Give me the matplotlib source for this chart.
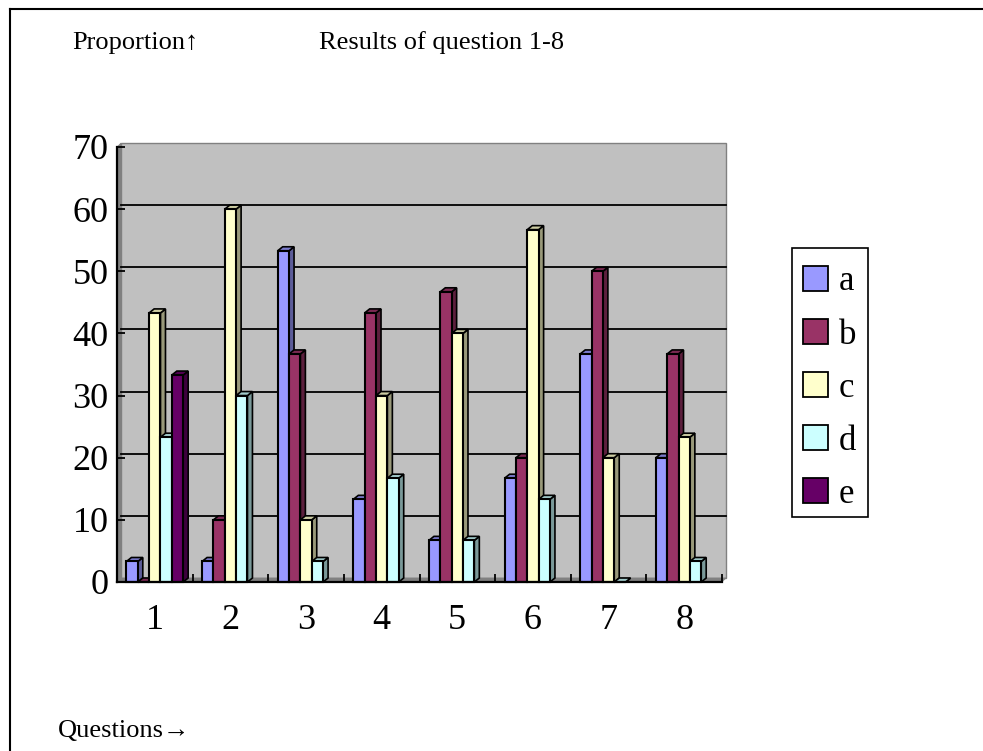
import numpy as np
import matplotlib
matplotlib.use('Agg')
import matplotlib.pyplot as plt
from matplotlib.patches import Patch, Polygon, Rectangle

nan = float('nan')
questions = ['1', '2', '3', '4', '5', '6', '7', '8']
a = [3.3, 3.3, 53.3, 13.3, 6.7, 16.7, 36.7, 20]
b = [0, 10, 36.7, 43.3, 46.7, 20, 50, 36.7]
c = [43.3, 60, 10, 30, 40, 56.7, 20, 23.3]
d = [23.3, 30, 3.3, 16.7, 6.7, 13.3, 0, 3.3]
e = [33.3, nan, nan, nan, nan, nan, nan, nan]
series = [a, b, c, d, e]
names = ['a', 'b', 'c', 'd', 'e']
colors = ['#9999FF', '#993366', '#FFFFCC', '#CCFFFF', '#660066']
sides = ['#5C5C99', '#5C1F3D', '#99997A', '#7A9999', '#3D003D']
tops = ['#7A7ACC', '#7A2952', '#CCCCA3', '#A3CCCC', '#520052']

W, H = 983, 751
DPI = 100
SERIF = ['Liberation Serif', 'DejaVu Serif']
plt.rcParams['font.family'] = SERIF

fig = plt.figure(figsize=(W / DPI, H / DPI), dpi=DPI)

# front plane of the fake 3d chart, in figure fractions
left, right, top, bottom = 117, 722, 147, 582
ax = fig.add_axes([left / W, 1 - bottom / H, (right - left) / W, (bottom - top) / H])
ax.set_xlim(0.5, 8.5)
ax.set_ylim(0, 70)
ax.patch.set_visible(False)

# depth of walls and bars, in data units
px_x = (right - left) / 8
px_y = (bottom - top) / 70
wx, wy = 4 / px_x, 4 / px_y
dx, dy = 5 / px_x, 4 / px_y

# back wall, left wall, floor
ax.add_patch(Polygon([(0.5 + wx, wy), (8.5 + wx, wy), (8.5 + wx, 70 + wy), (0.5 + wx, 70 + wy)],
                     fc='#C0C0C0', ec='#808080', lw=1, clip_on=False, zorder=1))
ax.add_patch(Polygon([(0.5, 0), (0.5 + wx, wy), (0.5 + wx, 70 + wy), (0.5, 70)],
                     fc='#808080', ec='#808080', lw=0.5, clip_on=False, zorder=1))
ax.add_patch(Polygon([(0.5, 0), (8.5, 0), (8.5 + wx, wy), (0.5 + wx, wy)],
                     fc='#808080', ec='#808080', lw=0.5, clip_on=False, zorder=1))
for v in range(10, 70, 10):
    ax.plot([0.5 + wx, 8.5 + wx], [v + wy, v + wy], color='black', lw=1.3, clip_on=False, zorder=2)

width = 0.15
x = np.arange(1, 9)
for i, vals in enumerate(series):
    pos = x + (i - 2) * width
    for p, v in zip(pos, vals):
        if np.isnan(v):
            continue
        z = 3 + i
        ax.add_patch(Polygon([(p + width / 2, 0), (p + width / 2 + dx, dy),
                              (p + width / 2 + dx, v + dy), (p + width / 2, v)],
                             fc=sides[i], ec='black', lw=1.2, clip_on=False, zorder=z))
        ax.add_patch(Polygon([(p - width / 2, v), (p + width / 2, v),
                              (p + width / 2 + dx, v + dy), (p - width / 2 + dx, v + dy)],
                             fc=tops[i], ec='black', lw=1.2, clip_on=False, zorder=z))
    ax.bar(pos, vals, width, color=colors[i], edgecolor='black', lw=1.5, zorder=3 + i, clip_on=False)

for s in ['top', 'right']:
    ax.spines[s].set_visible(False)
for s in ['left', 'bottom']:
    ax.spines[s].set_linewidth(1.6)
    ax.spines[s].set_zorder(10)
ax.set_xticks(x)
ax.set_xticklabels(questions)
ax.set_yticks(range(0, 80, 10))
ax.set_xticks(np.arange(0.5, 9.5, 1), minor=True)
ax.tick_params(axis='x', which='major', length=0, pad=16, labelsize=26)
ax.tick_params(axis='x', which='minor', direction='in', length=6, width=1.3)
ax.tick_params(axis='y', direction='in', length=6, width=1.3, pad=6, labelsize=26)

# legend box is drawn apart, the entries sit low inside it
fig.add_artist(Rectangle((792 / W, 1 - 517 / H), 76 / W, 269 / H, fc='white', ec='black',
                         lw=1.2, transform=fig.transFigure))
handles = [Patch(fc=col, ec='black', lw=1.3) for col in colors]
fig.legend(handles, names, loc='upper left', bbox_to_anchor=(792 / W, 1 - 254 / H),
           borderaxespad=0, fontsize=25, frameon=False, handlelength=0.72, handleheight=0.72,
           handletextpad=0.3, labelspacing=0.58, borderpad=0.33)

fig.text(72 / W, 1 - 43 / H, 'Proportion↑', fontsize=19, va='center')
fig.text(319 / W, 1 - 43 / H, 'Results of question 1-8', fontsize=19, va='center')
fig.text(58 / W, 1 - 731 / H, 'Questions→', fontsize=19, va='center')

# page border
fig.add_artist(plt.Line2D([10 / W, 10 / W], [0, 1 - 8.5 / H], color='black', lw=1.5))
fig.add_artist(plt.Line2D([10 / W, 1], [1 - 8.5 / H, 1 - 8.5 / H], color='black', lw=1.5))

fig.savefig('out.png', dpi=DPI)
